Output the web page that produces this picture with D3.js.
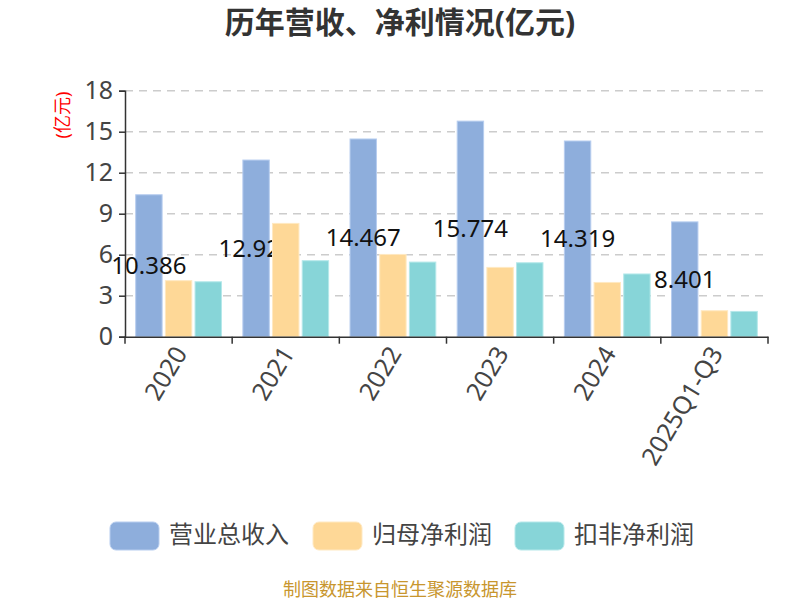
<!DOCTYPE html>
<html><head><meta charset="utf-8">
<script src="https://cdn.jsdelivr.net/npm/d3@7/dist/d3.min.js"></script>
<style>body{margin:0;background:#fff}svg{display:block}</style>
</head><body>
<svg id="c" width="800" height="600"></svg>
<script>
const categories = ["2020","2021","2022","2023","2024","2025Q1-Q3"];
const seriesNames = ["营业总收入","归母净利润","扣非净利润"];
const revenue = [10.386, 12.926, 14.467, 15.774, 14.319, 8.401];
const netProfit = [4.10, 8.29, 6.02, 5.07, 3.97, 1.90];
const deductedProfit = [4.02, 5.56, 5.46, 5.41, 4.59, 1.85];
const yTicks = [0,3,6,9,12,15,18];
const colors = ["#8eaedc","#fed897","#87d5d8"];
const strokes = ["#b7cdef","#ffe9c2","#b5e8ea"];
const series = [revenue, netProfit, deductedProfit];

const svg = d3.select("#c");
const font = "'Noto Sans','Noto Sans CJK SC',sans-serif";
const L=125, R=768, T=90.7, B=336.7;
const x = d3.scaleBand().domain(categories).range([L,R]).padding(0);
const xs = d3.scaleBand().domain([0,1,2]).range([10.7, x.bandwidth()-10.7]).paddingInner(0.11);
const y = d3.scaleLinear().domain([0,18]).range([B,T]);

// title
svg.append("text").attr("x",400).attr("y",33).attr("text-anchor","middle")
  .attr("font-family",font).attr("font-weight","bold").attr("font-size",30).attr("fill","#333")
  .text("历年营收、净利情况(亿元)");

// grid
svg.append("g").selectAll("line").data(yTicks.filter(d=>d>0)).join("line")
  .attr("x1",L).attr("x2",R).attr("y1",d=>y(d)).attr("y2",d=>y(d))
  .attr("stroke","#cccccc").attr("stroke-width",1.5).attr("stroke-dasharray","8,6");

// y axis
const ya = svg.append("g").attr("transform",`translate(${L},0)`)
  .call(d3.axisLeft(y).tickValues(yTicks).tickSize(6).tickPadding(6));
ya.select(".domain").attr("stroke","#333").attr("stroke-width",1.5);
ya.selectAll(".tick line").attr("stroke","#333").attr("stroke-width",1.5);
ya.selectAll("text").attr("font-family",font).attr("font-size",25).attr("fill","#444");

svg.append("text").attr("transform","translate(63,115) rotate(-90)").attr("text-anchor","middle")
  .attr("dy","0.35em")
  .attr("font-family",font).attr("font-size",18).attr("fill","#ff0000").text("(亿元)");

// bars: revenue first, then labels, then other series on top
const g = svg.append("g");
function drawSeries(i){
  g.append("g").selectAll("rect").data(series[i]).join("rect")
    .attr("x",(d,j)=>x(categories[j])+xs(i)).attr("width",xs.bandwidth())
    .attr("y",d=>y(d)).attr("height",d=>y(0)-y(d))
    .attr("fill",colors[i]).attr("stroke",strokes[i]).attr("stroke-width",1);
}
drawSeries(0);
g.append("g").selectAll("text").data(revenue).join("text")
  .attr("x",(d,j)=>x(categories[j])+xs(0)+xs.bandwidth()/2)
  .attr("y",d=>y(d/2)).attr("dy","0.35em").attr("text-anchor","middle")
  .attr("font-family",font).attr("font-size",24).attr("fill","#111")
  .text(d=>d.toFixed(3));
drawSeries(1);
drawSeries(2);

// x axis
const xa = svg.append("g").attr("transform",`translate(0,${B})`)
  .call(d3.axisBottom(x).tickSize(0).tickFormat(""));
xa.select(".domain").attr("stroke","#333").attr("stroke-width",1.5);
svg.append("g").selectAll("line").data(d3.range(categories.length+1)).join("line")
  .attr("x1",i=>L+i*x.bandwidth()).attr("x2",i=>L+i*x.bandwidth())
  .attr("y1",B).attr("y2",B+7).attr("stroke","#333").attr("stroke-width",1.5);
svg.append("g").selectAll("text").data(categories).join("text")
  .attr("transform",d=>`translate(${x(d)+x.bandwidth()/2+2},${B+12}) rotate(-59)`)
  .attr("text-anchor","end").attr("dy","0.35em")
  .attr("font-family",font).attr("font-size",25).attr("fill","#444").text(d=>d);

// legend
const legX = [110, 313, 515];
const lg = svg.append("g");
seriesNames.forEach((n,i)=>{
  lg.append("rect").attr("x",legX[i]).attr("y",522).attr("width",49).attr("height",28).attr("rx",6)
    .attr("fill",colors[i]).attr("stroke",strokes[i]);
  lg.append("text").attr("x",legX[i]+59).attr("y",535).attr("dy","0.35em")
    .attr("font-family",font).attr("font-size",24).attr("fill","#444").text(n);
});

svg.append("text").attr("x",400).attr("y",590).attr("dy","0.35em").attr("text-anchor","middle")
  .attr("font-family",font).attr("font-size",18).attr("fill","#c8962e").text("制图数据来自恒生聚源数据库");
</script>
</body></html>
